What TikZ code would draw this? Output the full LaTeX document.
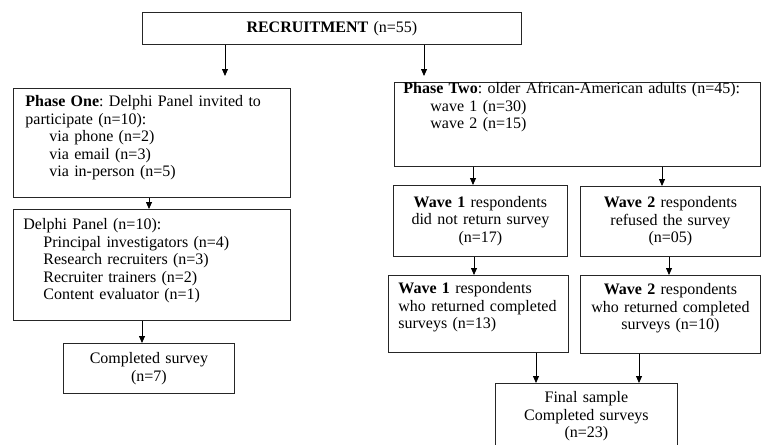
\documentclass[tikz,border=0pt]{standalone}
\usepackage{fontspec}
\setmainfont{Liberation Serif}
\usetikzlibrary{arrows.meta}
\begin{document}
\begin{tikzpicture}[x=1pt,y=1pt,
  box/.style={draw=black!85,line width=0.8pt,anchor=north west,font=\fontsize{16}{17.5}\selectfont\frenchspacing,inner ysep=4pt},
  midbox/.style={box,align=center,inner xsep=2pt},
  leftbox/.style={box,align=left},
  arr/.style={draw=black,line width=0.8pt,-{Triangle[length=7pt,width=6pt]}}]
\useasboundingbox (0,0) rectangle (762,-444);
\node[midbox,minimum width=379pt,minimum height=32pt,text width=375pt] (recruit) at (142,-12) {\textbf{RECRUITMENT} (n=55)};
\node[leftbox,inner xsep=12pt,text width=253pt,text height=14.5pt,text depth=86.5pt] (one) at (13,-88) {\textbf{Phase One}: Delphi Panel invited to\\participate (n=10):\\\hspace*{24pt}via phone (n=2)\\\hspace*{24pt}via email (n=3)\\\hspace*{24pt}via in-person (n=5)};
\node[leftbox,inner xsep=10pt,text width=257pt,text height=16.5pt,text depth=86.5pt] (delphi) at (13,-209) {Delphi Panel (n=10):\\\hspace*{20pt}Principal investigators (n=4)\\\hspace*{20pt}Research recruiters (n=3)\\\hspace*{20pt}Recruiter trainers (n=2)\\\hspace*{20pt}Content evaluator (n=1)};
\node[midbox,minimum width=171pt,minimum height=50pt,text width=167pt] (done) at (63,-343) {Completed survey\\(n=7)};
\node[leftbox,inner xsep=9pt,text width=348pt,text height=7.5pt,text depth=68.5pt] (two) at (394,-82) {\textbf{Phase Two}: older African-American adults (n=45):\\\hspace*{27pt}wave 1 (n=30)\\\hspace*{27pt}wave 2 (n=15)};
\node[midbox,minimum width=174pt,minimum height=71pt,text width=170pt] (w1a) at (393,-185) {\textbf{Wave 1} respondents\\did not return survey\\(n=17)};
\node[midbox,minimum width=180pt,minimum height=70pt,text width=176pt] (w2a) at (580,-186) {\textbf{Wave 2} respondents\\refused the survey\\(n=05)};
\node[leftbox,inner xsep=10pt,text width=160pt,text height=14.5pt,text depth=54.5pt] (w1b) at (388,-275) {\textbf{Wave 1} respondents\\who returned completed\\surveys (n=13)};
\node[leftbox,align=center,inner xsep=2pt,text width=176pt,text height=15.5pt,text depth=54.5pt] (w2b) at (580,-275) {\textbf{Wave 2} respondents\\who returned completed\\surveys (n=10)};
\node[midbox,minimum width=182pt,minimum height=66pt,text width=178pt] (final) at (495,-383) {Final sample\\Completed surveys\\(n=23)};
\draw[arr,shorten >=12pt] (recruit.south -| 225,0) -- (one.north -| 225,0);
\draw[arr,shorten >=6pt] (recruit.south -| 424,0) -- (two.north -| 424,0);
\draw[arr] (one.south -| 149,0) -- (delphi.north -| 149,0);
\draw[arr] (delphi.south -| 142,0) -- (done.north -| 142,0);
\draw[arr] (two.south -| 473,0) -- (w1a.north -| 473,0);
\draw[arr] (two.south -| 662,0) -- (w2a.north -| 662,0);
\draw[arr] (w1a.south -| 474,0) -- (w1b.north -| 474,0);
\draw[arr] (w2a.south -| 669,0) -- (w2b.north -| 669,0);
\draw[arr] (w1b.south -| 536,0) -- (final.north -| 536,0);
\draw[arr] (w2b.south -| 639,0) -- (final.north -| 639,0);
\end{tikzpicture}
\end{document}
